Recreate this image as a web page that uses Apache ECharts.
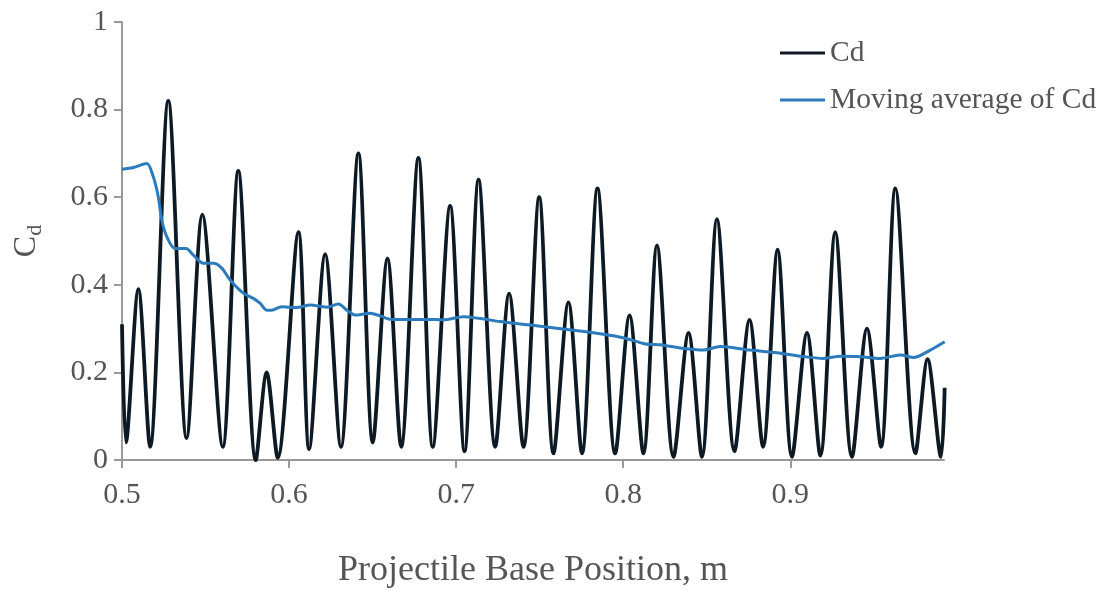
<!DOCTYPE html>
<html>
<head>
<meta charset="utf-8">
<script src="https://cdn.jsdelivr.net/npm/echarts@6/dist/echarts.min.js"></script>
<style>
  html, body { margin: 0; padding: 0; background: #fff; }
  #chart { width: 1107px; height: 591px; }
</style>
</head>
<body>
<div id="chart"></div>
<script>
// Cd, peaks and troughs
const cdX = [0.5000, 0.5024, 0.5098, 0.5168, 0.5277, 0.5387, 0.5481, 0.5603, 0.5696, 0.5801,
  0.5866, 0.5932, 0.6056, 0.6120, 0.6216, 0.6310, 0.6415, 0.6501, 0.6589, 0.6671,
  0.6774, 0.6860, 0.6964, 0.7050, 0.7134, 0.7234, 0.7317, 0.7403, 0.7497, 0.7583,
  0.7672, 0.7753, 0.7846, 0.7952, 0.8038, 0.8121, 0.8202, 0.8301, 0.8391, 0.8471,
  0.8561, 0.8666, 0.8756, 0.8837, 0.8924, 0.9010, 0.9100, 0.9180, 0.9269, 0.9369,
  0.9459, 0.9543, 0.9629, 0.9749, 0.9822, 0.9902, 0.9924];
const cdY = [0.31, 0.04, 0.39, 0.03, 0.82, 0.05, 0.56, 0.03, 0.66, 0.00,
  0.20, 0.005, 0.52, 0.025, 0.47, 0.03, 0.70, 0.04, 0.46, 0.03,
  0.69, 0.03, 0.58, 0.02, 0.64, 0.03, 0.38, 0.03, 0.60, 0.015,
  0.36, 0.015, 0.62, 0.015, 0.33, 0.015, 0.49, 0.007, 0.29, 0.007,
  0.55, 0.02, 0.32, 0.03, 0.48, 0.007, 0.29, 0.01, 0.52, 0.007,
  0.30, 0.03, 0.62, 0.015, 0.23, 0.007, 0.165];

// moving average of Cd
const avgX = [0.5000, 0.5068, 0.5148, 0.5187, 0.5217, 0.5238, 0.5268, 0.5317, 0.5383, 0.5427,
  0.5487, 0.5547, 0.5597, 0.5647, 0.5726, 0.5786, 0.5826, 0.5866, 0.5896, 0.5956,
  0.6046, 0.6126, 0.6226, 0.6295, 0.6346, 0.6395, 0.6485, 0.6545, 0.6615, 0.6825,
  0.6924, 0.7044, 0.7144, 0.7263, 0.7373, 0.7443, 0.7663, 0.7862, 0.8012, 0.8132,
  0.8222, 0.8351, 0.8481, 0.8581, 0.8760, 0.8920, 0.9060, 0.9199, 0.9299, 0.9419,
  0.9539, 0.9659, 0.9738, 0.9838, 0.9924];
const avgY = [0.664, 0.668, 0.677, 0.647, 0.601, 0.548, 0.510, 0.483, 0.483, 0.468,
  0.449, 0.449, 0.438, 0.411, 0.381, 0.369, 0.358, 0.342, 0.342, 0.350,
  0.348, 0.354, 0.349, 0.356, 0.342, 0.331, 0.335, 0.329, 0.321, 0.321,
  0.320, 0.327, 0.323, 0.316, 0.311, 0.308, 0.298, 0.288, 0.278, 0.265,
  0.263, 0.255, 0.251, 0.259, 0.251, 0.245, 0.237, 0.232, 0.237, 0.236,
  0.232, 0.240, 0.234, 0.251, 0.270];

const font = '"Liberation Serif", "Times New Roman", serif';
const textColor = '#555';
const axisColor = '#999';

const pair = (xs, ys) => xs.map((x, i) => [x, ys[i]]);

const chart = echarts.init(document.getElementById('chart'));
chart.setOption({
  animation: false,
  textStyle: { fontFamily: font },
  grid: { left: 122, right: 163, top: 22, bottom: 131, outerBoundsMode: 'none', containLabel: false },
  legend: {
    orient: 'vertical',
    left: 775,
    top: 33,
    icon: 'rect',
    itemWidth: 45,
    itemHeight: 3,
    itemGap: 17,
    textStyle: { fontFamily: font, fontSize: 29.5, color: textColor, lineHeight: 30 },
    data: ['Cd', 'Moving average of Cd']
  },
  xAxis: {
    type: 'value',
    min: 0.5,
    max: 0.992,
    interval: 0.1,
    name: 'Projectile Base Position, m',
    nameLocation: 'middle',
    nameGap: 93,
    nameTextStyle: { fontFamily: font, fontSize: 36, color: textColor },
    axisLine: { lineStyle: { color: axisColor, width: 2 } },
    axisTick: { length: 8, lineStyle: { color: axisColor, width: 2 } },
    axisLabel: { fontFamily: font, fontSize: 30, color: textColor, margin: 20, showMaxLabel: false },
    splitLine: { show: false }
  },
  yAxis: {
    type: 'value',
    min: 0,
    max: 1,
    interval: 0.2,
    name: '{c|C}{d|d}',
    nameLocation: 'middle',
    nameRotate: 90,
    nameGap: 76,
    nameTextStyle: {
      rich: {
        c: { fontFamily: font, fontSize: 32, color: textColor },
        d: { fontFamily: font, fontSize: 22, color: textColor, padding: [16, 0, 0, 0] }
      }
    },
    axisLine: { show: true, lineStyle: { color: axisColor, width: 2 } },
    axisTick: { show: true, length: 8, lineStyle: { color: axisColor, width: 2 } },
    axisLabel: { fontFamily: font, fontSize: 30, color: textColor, margin: 14 },
    splitLine: { show: false }
  },
  series: [
    {
      name: 'Cd',
      type: 'line',
      data: pair(cdX, cdY),
      smooth: 0.3,
      symbol: 'none',
      lineStyle: { color: '#0d1a24', width: 3.8 },
      itemStyle: { color: '#0d1a24' }
    },
    {
      name: 'Moving average of Cd',
      type: 'line',
      data: pair(avgX, avgY),
      smooth: 0.3,
      symbol: 'none',
      lineStyle: { color: '#2b7bbd', width: 3 },
      itemStyle: { color: '#2b7bbd' }
    }
  ]
});
</script>
</body>
</html>
